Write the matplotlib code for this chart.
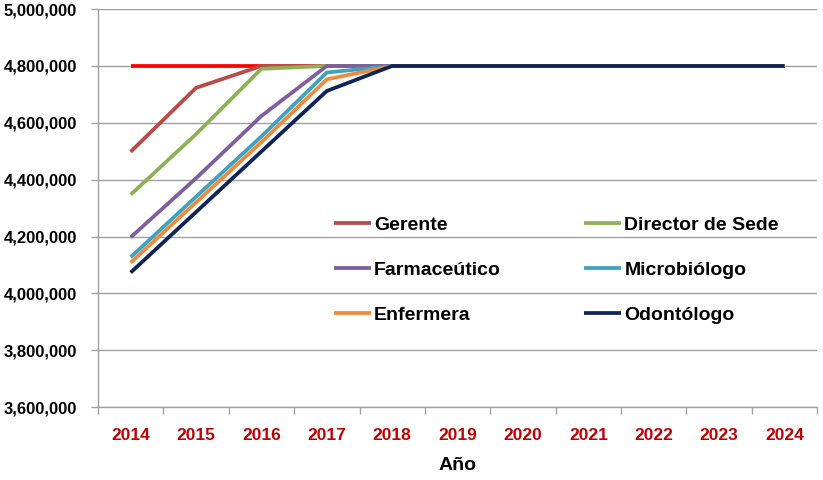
import matplotlib
matplotlib.use("Agg")
import matplotlib.pyplot as plt
from matplotlib.ticker import FuncFormatter, FixedLocator

years = ["2014", "2015", "2016", "2017", "2018", "2019", "2020", "2021", "2022", "2023", "2024"]
tope = [4800000] * 11
gerente = [4498000, 4723000, 4800000, 4800000, 4800000, 4800000, 4800000, 4800000, 4800000, 4800000, 4800000]
director = [4347000, 4560000, 4790000, 4800000, 4800000, 4800000, 4800000, 4800000, 4800000, 4800000, 4800000]
farmaceutico = [4197000, 4405000, 4624000, 4800000, 4800000, 4800000, 4800000, 4800000, 4800000, 4800000, 4800000]
microbiologo = [4127000, 4340000, 4552000, 4777000, 4800000, 4800000, 4800000, 4800000, 4800000, 4800000, 4800000]
enfermera = [4108000, 4320000, 4532000, 4753000, 4800000, 4800000, 4800000, 4800000, 4800000, 4800000, 4800000]
odontologo = [4073000, 4286000, 4499000, 4712000, 4800000, 4800000, 4800000, 4800000, 4800000, 4800000, 4800000]

plt.rcParams['font.family'] = ['Liberation Sans', 'DejaVu Sans']

fig = plt.figure(figsize=(8.23, 4.8), dpi=100)
ax = fig.add_axes([0.119, 0.152, 0.874, 0.829])

x = list(range(len(years)))
lw = 2.7
ax.plot(x, tope, color="#FF0000", lw=lw, solid_capstyle="butt")
series = [
    ("Gerente", gerente, "#B84A47"),
    ("Director de Sede", director, "#8DB255"),
    ("Farmaceútico", farmaceutico, "#7D5FA0"),
    ("Microbiólogo", microbiologo, "#3FA3BF"),
    ("Enfermera", enfermera, "#EE8A3C"),
    ("Odontólogo", odontologo, "#0E2458"),
]
handles = {}
for name, vals, col in series:
    h, = ax.plot(x, vals, color=col, lw=lw, label=name, solid_capstyle="butt")
    handles[name] = h

ax.set_xlim(-0.5, len(years) - 0.5)
ax.set_ylim(3600000, 5000000)
ax.set_yticks(range(3600000, 5000001, 200000))
ax.yaxis.set_major_formatter(FuncFormatter(lambda v, p: f"{int(v):,}"))
ax.grid(axis="y", color="#A0A0A0", lw=1)
ax.set_axisbelow(True)

ax.set_xticks(x)
ax.set_xticklabels(years, color="#C00000", fontweight="bold", fontsize=12.5)
ax.xaxis.set_minor_locator(FixedLocator([i - 0.5 for i in range(len(years) + 1)]))
ax.tick_params(axis="x", which="major", length=0, pad=15)
ax.tick_params(axis="x", which="minor", length=5, color="#A0A0A0", width=1)
ax.tick_params(axis="y", length=5, color="#A0A0A0", width=1, labelsize=12, pad=10)
for lab in ax.get_yticklabels():
    lab.set_fontweight("bold")

for s in ["top", "right"]:
    ax.spines[s].set_visible(False)
for s in ["left", "bottom"]:
    ax.spines[s].set_color("#A0A0A0")
    ax.spines[s].set_linewidth(1)

ax.set_xlabel("Año", fontsize=14, fontweight="bold", labelpad=10)

order = ["Gerente", "Farmaceútico", "Enfermera", "Director de Sede", "Microbiólogo", "Odontólogo"]
leg = ax.legend(handles=[handles[n] for n in order], ncol=2, loc="upper left",
                bbox_to_anchor=(0.304, 0.523),
                frameon=False, prop={"weight": "bold", "size": 14},
                handlelength=1.9, handletextpad=0.15, columnspacing=4.3, labelspacing=1.4)

fig.savefig("out.png", dpi=100)
